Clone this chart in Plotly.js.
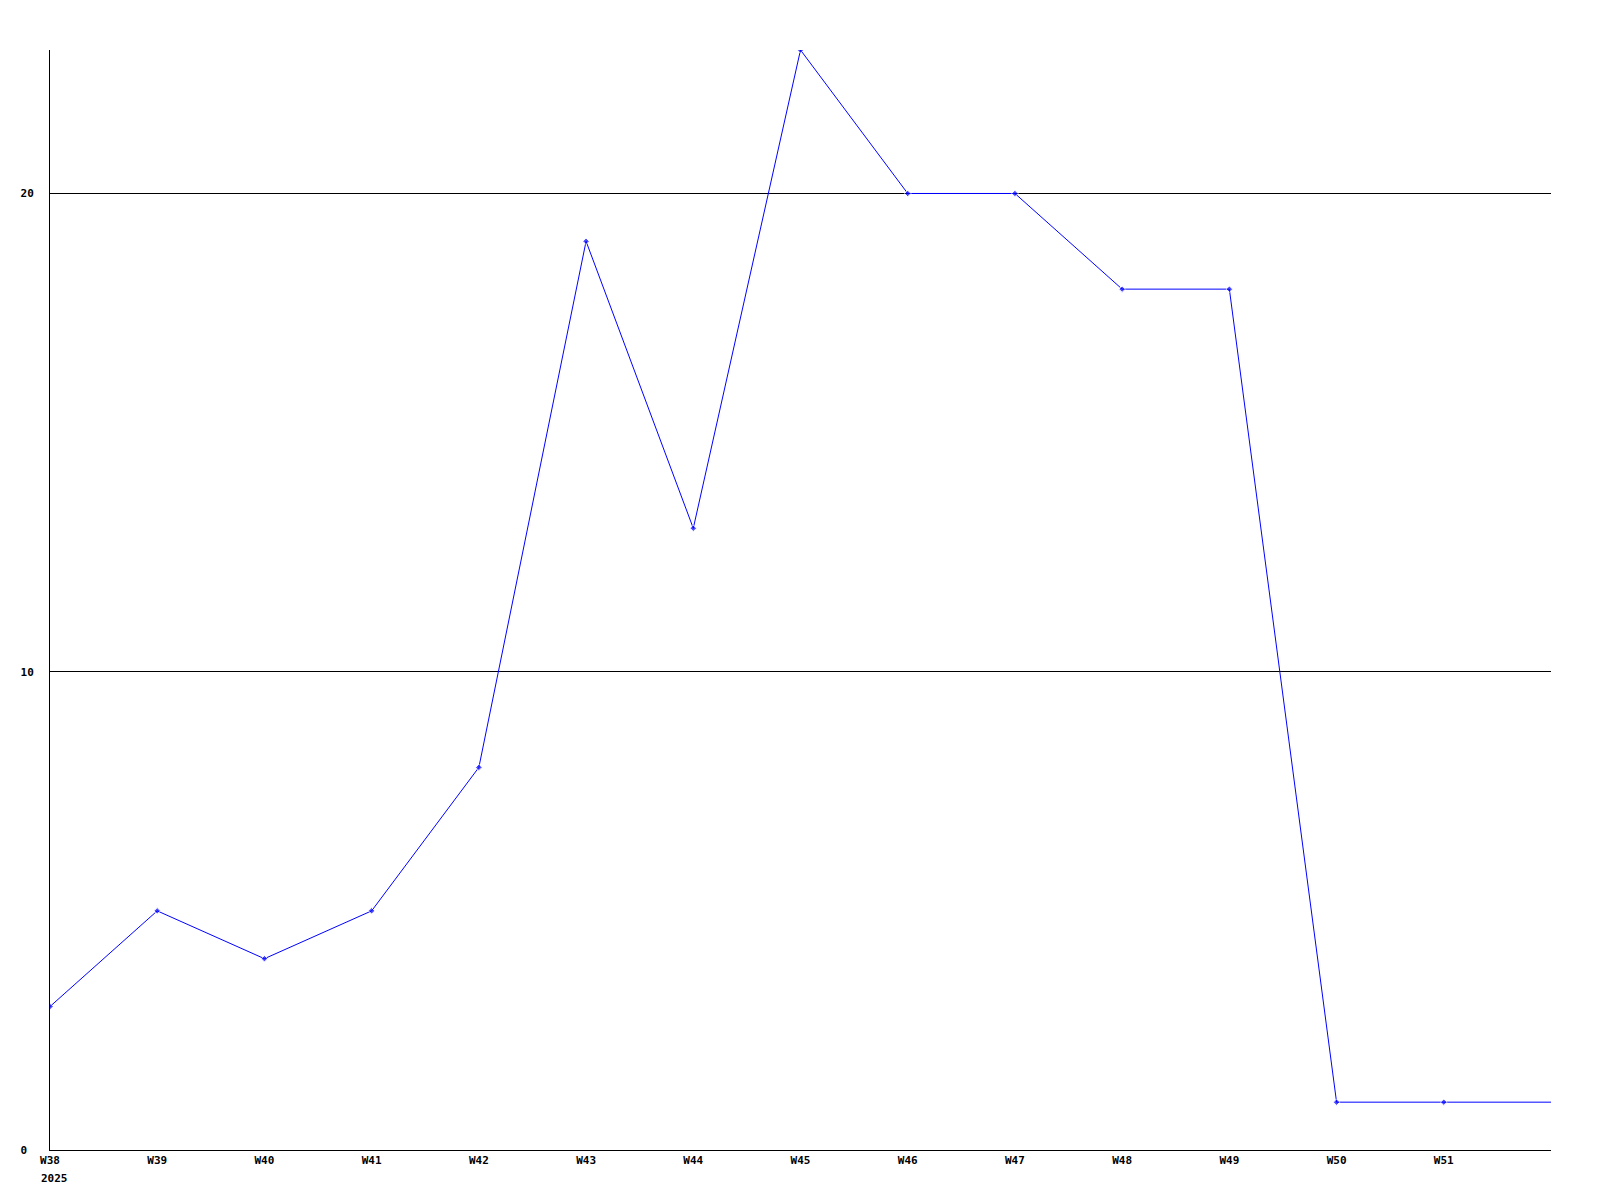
<!DOCTYPE html>
<html>
<head>
<meta charset="utf-8">
<script src="https://cdn.plot.ly/plotly-3.0.1.min.js"></script>
<style>html,body{margin:0;padding:0;background:#fff;}#chart{width:1600px;height:1200px;}</style>
</head>
<body>
<div id="chart"></div>
<script>
const weeks = ["W38","W39","W40","W41","W42","W43","W44","W45","W46","W47","W48","W49","W50","W51","W52"];
const values = [3,5,4,5,8,19,13,23,20,20,18,18,1,1,1];
const shownTicks = ["W38","W39","W40","W41","W42","W43","W44","W45","W46","W47","W48","W49","W50","W51"];
const yearLabel = "2025";
const yTickVals = [0,10,20];
const yTickText = ["0\u00a0","10","20"];

const xs = weeks.map((w,i)=>i);
const markerSizes = weeks.map((w,i)=> i === weeks.length-1 ? 0 : 5);

const font = {family: "DejaVu Sans Mono, monospace", size: 11, color: "#000", weight: "bold"};

Plotly.newPlot("chart", [{
  x: xs, y: values, type: "scatter", mode: "lines+markers",
  line: {color: "#0000ff", width: 1},
  marker: {color: "#0000ff", size: markerSizes, symbol: "diamond"},
  hoverinfo: "skip"
}], {
  width: 1600, height: 1200,
  margin: {l: 50, r: 49, t: 50, b: 50, pad: 0},
  paper_bgcolor: "#fff", plot_bgcolor: "#fff",
  showlegend: false,
  font: font,
  xaxis: {
    range: [0, weeks.length-1], tickmode: "array",
    tickvals: xs.slice(0, shownTicks.length), ticktext: shownTicks,
    showgrid: false, zeroline: false, showline: true, linecolor: "#000", linewidth: 1,
    ticks: "", ticklen: 0, tickfont: font, fixedrange: true
  },
  yaxis: {
    range: [0, 23], tickmode: "array", tickvals: yTickVals, ticktext: yTickText,
    showgrid: true, gridcolor: "#000", gridwidth: 1,
    zeroline: false, showline: true, linecolor: "#000", linewidth: 1,
    ticks: "", ticklen: 0, tickfont: font, fixedrange: true, ticklabelstandoff: 13
  },
  annotations: [{
    text: yearLabel, x: 0, xref: "x", xanchor: "left", xshift: -11,
    y: 0, yref: "paper", yanchor: "top", yshift: -20,
    showarrow: false, font: font
  }]
}, {staticPlot: true});
</script>
</body>
</html>
